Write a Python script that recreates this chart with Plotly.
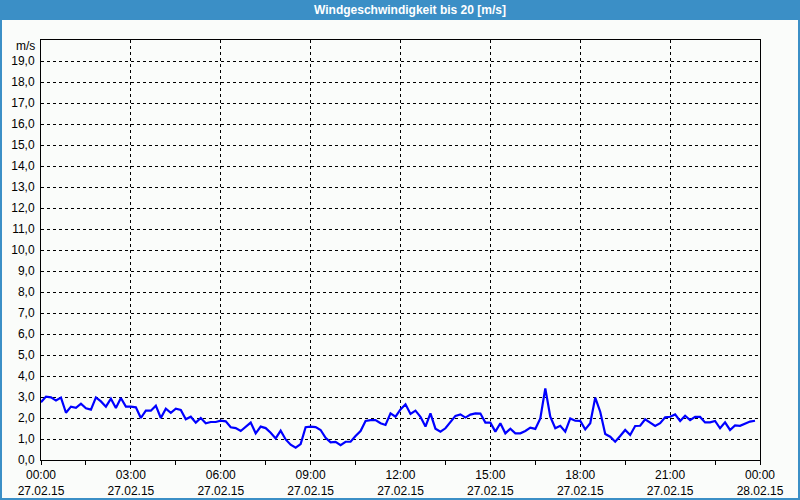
import pandas as pd
import plotly.graph_objects as go

# ---- data (10-minute readings, 27.02.15) ----
start_time = "2015-02-27 00:00"
interval = "10min"
wind_speed = [
    2.75, 3.02, 2.98, 2.83, 2.97, 2.25, 2.54, 2.48, 2.68, 2.46, 2.40, 2.98,
    2.79, 2.54, 2.92, 2.48, 2.95, 2.54, 2.54, 2.51, 2.00, 2.35, 2.35, 2.59,
    2.00, 2.44, 2.25, 2.44, 2.38, 1.94, 2.06, 1.78, 2.00, 1.75, 1.81, 1.81,
    1.87, 1.84, 1.56, 1.52, 1.38, 1.56, 1.78, 1.27, 1.59, 1.52, 1.30, 1.03,
    1.40, 0.98, 0.73, 0.59, 0.76, 1.56, 1.59, 1.57, 1.43, 1.06, 0.84, 0.86,
    0.71, 0.87, 0.87, 1.14, 1.38, 1.86, 1.90, 1.90, 1.75, 1.67, 2.22, 2.06,
    2.41, 2.65, 2.19, 2.35, 2.06, 1.59, 2.22, 1.49, 1.35, 1.51, 1.83, 2.10,
    2.17, 2.02, 2.16, 2.22, 2.21, 1.78, 1.78, 1.35, 1.75, 1.27, 1.49, 1.27,
    1.27, 1.38, 1.54, 1.48, 1.98, 3.41, 2.06, 1.51, 1.63, 1.35, 1.98, 1.87,
    1.86, 1.46, 1.75, 2.97, 2.30, 1.24, 1.11, 0.87, 1.14, 1.43, 1.19, 1.62,
    1.63, 1.94, 1.78, 1.62, 1.75, 2.03, 2.06, 2.17, 1.86, 2.11, 1.90, 2.06,
    2.05, 1.79, 1.79, 1.86, 1.51, 1.79, 1.43, 1.65, 1.63, 1.75, 1.83, 1.87,
]
times = pd.date_range(start_time, periods=len(wind_speed), freq=interval)

x_tick_vals = ["2015-02-27 00:00", "2015-02-27 03:00", "2015-02-27 06:00",
               "2015-02-27 09:00", "2015-02-27 12:00", "2015-02-27 15:00",
               "2015-02-27 18:00", "2015-02-27 21:00", "2015-02-28 00:00"]
x_tick_text = ["00:00<br>27.02.15", "03:00<br>27.02.15", "06:00<br>27.02.15",
               "09:00<br>27.02.15", "12:00<br>27.02.15", "15:00<br>27.02.15",
               "18:00<br>27.02.15", "21:00<br>27.02.15", "00:00<br>28.02.15"]
y_tick_vals = list(range(0, 20))
y_tick_text = [f"{v},0" for v in y_tick_vals]

title_text = "Windgeschwindigkeit bis 20 [m/s]"
unit_text = "m/s"

# ---- layout geometry (pixels) ----
W, H = 800, 500
L, R, T, B = 41, 760, 40, 460
BLUE = "#3b8fc6"
BG = "#fafcfa"
FONT = "Liberation Sans"


def px_x(p):
    return (p - L) / (R - L)


def px_y(p):
    return (B - p) / (B - T)


fig = go.Figure()
fig.add_trace(go.Scatter(x=times, y=wind_speed, mode="lines",
                         line=dict(color="#0000ff", width=2.2),
                         hoverinfo="x+y", showlegend=False))

fig.update_layout(
    width=W, height=H,
    margin=dict(l=L, r=W - R, t=T, b=H - B, autoexpand=False),
    paper_bgcolor=BG, plot_bgcolor=BG,
    font=dict(family=FONT, size=12, color="#000000"),
    showlegend=False,
)

fig.update_xaxes(
    type="date", automargin=False,
    range=["2015-02-27 00:00", "2015-02-28 00:00"],
    tickmode="array", tickvals=x_tick_vals, ticktext=x_tick_text,
    showgrid=True, gridcolor="#000000", griddash="3px,3px", gridwidth=1,
    showline=True, linecolor="#000000", linewidth=1, mirror=True,
    ticks="outside", ticklen=4, tickcolor="#000000",
    minor=dict(dtick=5400000, tick0="2015-02-27 00:00", ticks="outside",
               ticklen=4, tickcolor="#000000", showgrid=False),
    tickfont=dict(family=FONT, size=12, color="#000000"),
    zeroline=False,
)
fig.update_yaxes(
    automargin=False,
    range=[0, 20],
    tickmode="array", tickvals=y_tick_vals, ticktext=y_tick_text,
    showgrid=True, gridcolor="#000000", griddash="3px,3px", gridwidth=1,
    showline=True, linecolor="#000000", linewidth=1, mirror=True,
    ticks="", ticklabelstandoff=3,
    tickfont=dict(family=FONT, size=12, color="#000000"),
    zeroline=False,
)

shapes = [
    # title bar
    dict(type="rect", xref="paper", yref="paper", x0=px_x(0), x1=px_x(W),
         y0=px_y(20), y1=px_y(0), fillcolor=BLUE, line=dict(width=0), layer="above"),
    # left, right, bottom window border
    dict(type="rect", xref="paper", yref="paper", x0=px_x(0), x1=px_x(2),
         y0=px_y(H), y1=px_y(0), fillcolor=BLUE, line=dict(width=0), layer="above"),
    dict(type="rect", xref="paper", yref="paper", x0=px_x(W - 2), x1=px_x(W),
         y0=px_y(H), y1=px_y(0), fillcolor=BLUE, line=dict(width=0), layer="above"),
    dict(type="rect", xref="paper", yref="paper", x0=px_x(0), x1=px_x(W),
         y0=px_y(H), y1=px_y(H - 2), fillcolor=BLUE, line=dict(width=0), layer="above"),
]
fig.update_layout(shapes=shapes)

fig.add_annotation(text=f"<b>{title_text}</b>", xref="paper", yref="paper",
                   x=px_x(410), y=px_y(10), xanchor="center", yanchor="middle",
                   showarrow=False, font=dict(family=FONT, size=12, color="#ffffff"))
fig.add_annotation(text=unit_text, xref="paper", yref="paper",
                   x=px_x(37), y=px_y(46), xanchor="right", yanchor="middle",
                   showarrow=False, font=dict(family=FONT, size=12, color="#000000"))

fig.write_html("out.html")
